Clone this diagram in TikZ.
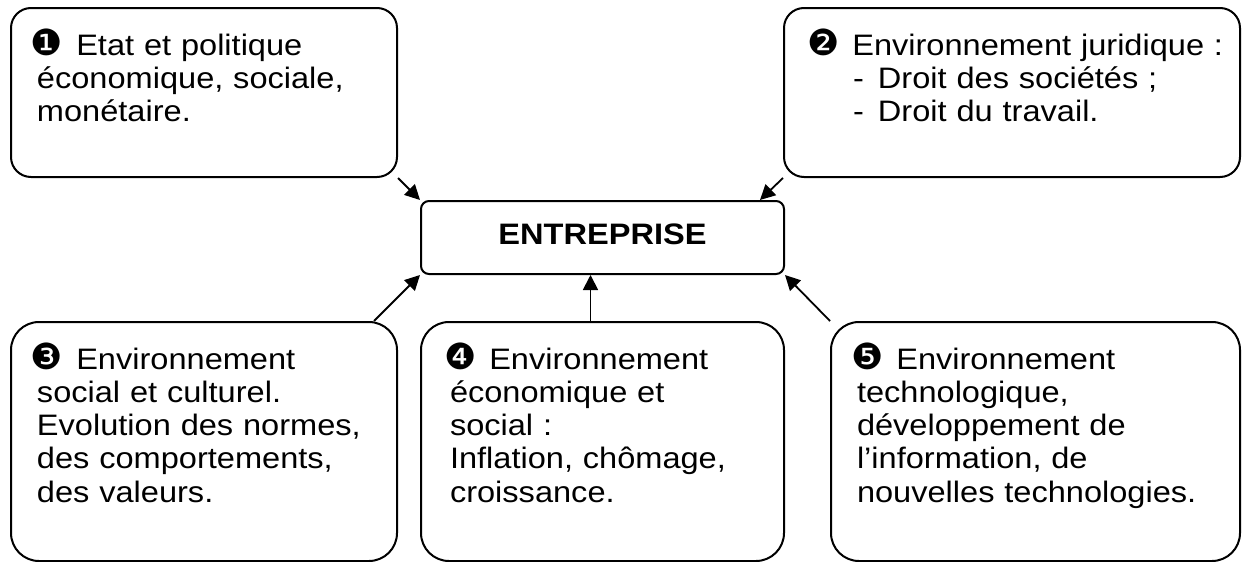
\documentclass[tikz,border=0pt]{standalone}
\usepackage{fontspec}
\setmainfont{Liberation Sans}[FakeStretch=1.1]
\newfontfamily\dingfont{DejaVu Sans}
\usepackage{tikz}
\usetikzlibrary{arrows.meta}
\tikzset{
    envbox/.style = {draw=black, line width=1pt, anchor=north west, align=left, inner xsep=13pt, inner ysep=0pt, text height=23.5pt, font=\fontsize{14.8pt}{16.65pt}\selectfont},
    topbox/.style = {envbox, rounded corners=10pt, text depth=61pt},
    botbox/.style = {envbox, rounded corners=14pt, text depth=96pt},
    entbox/.style = {draw=black, line width=1pt, anchor=north west, rounded corners=4pt, inner sep=0pt, align=center, text width=181.5pt, text height=21.5pt, text depth=15pt, font=\fontsize{14.8pt}{16.65pt}\selectfont\bfseries},
}
\newcommand{\pastille}[1]{\hspace*{-3pt}{\dingfont\fontsize{18pt}{16pt}\selectfont #1}\hspace{6.5pt}}

\begin{document}
\begin{tikzpicture}[x=0.5pt, y=-0.5pt]
\tikzset{
    arr/.style = {-{Triangle[length=7.5pt,width=7.5pt]}, line width=0.9pt},
}
\useasboundingbox (0,0) rectangle (1242,562);
\node[entbox] at (420,200) (ent) {ENTREPRISE};
%
\node[topbox, text width=167pt] at (10,7) (etat) {\pastille{❶}Etat et politique\\ économique, sociale,\\ monétaire.};
\node[topbox, inner xsep=14.5pt, text width=199pt] at (783,7) (jur) {\mbox{\pastille{❷}Environnement juridique :}\\ \hspace*{20pt}\makebox[12.5pt][l]{-}Droit des sociétés ;\\ \hspace*{20pt}\makebox[12.5pt][l]{-}Droit du travail.};
%
\node[botbox, text width=167pt] at (10,321) (soc) {\pastille{❸}Environnement\\ social et culturel.\\ Evolution des normes,\\ des comportements,\\ des valeurs.};
\node[botbox, inner xsep=14.5pt, text width=152.5pt] at (420,321) (eco) {\pastille{❹}Environnement\\ économique et\\ social :\\ Inflation, chômage,\\ croissance.};
\node[botbox, text width=178.5pt] at (830,321) (tech) {\pastille{❺}Environnement\\ technologique,\\ développement de\\ l’information, de\\ nouvelles technologies.};
%
\draw[arr] (etat.south east) -- (ent.north west);
\draw[arr] (jur.south west) -- ([xshift=-12.5pt]ent.north east);
\draw[arr] ([xshift=-12pt]soc.north east) -- (ent.south west);
\draw[arr] ([xshift=-6pt]eco.north) -- ([xshift=-6pt]eco.north |- ent.south);
\draw[arr] (tech.north west) -- (ent.south east);
\end{tikzpicture}
\end{document}
